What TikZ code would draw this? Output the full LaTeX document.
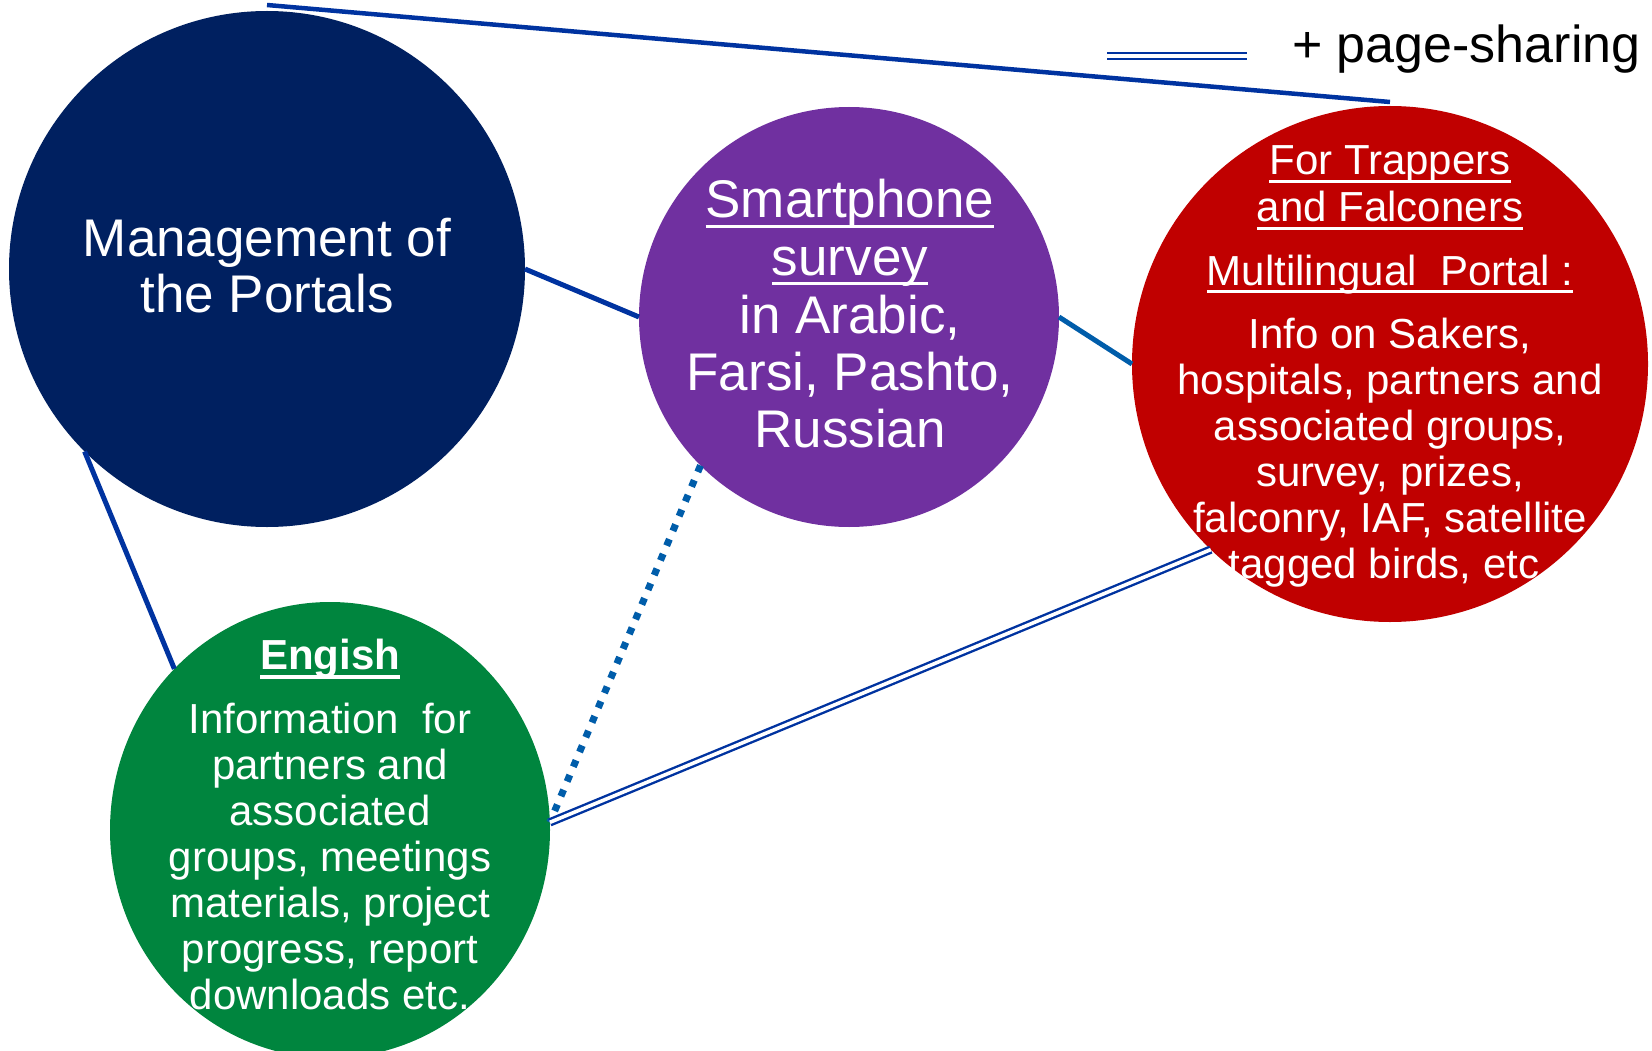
\documentclass[tikz,border=0pt]{standalone}
\usepackage{fontspec}
\usetikzlibrary{shapes.geometric}
\setmainfont{Liberation Sans}
\definecolor{navyc}{HTML}{002060}
\definecolor{purplec}{HTML}{7030A0}
\definecolor{redc}{HTML}{C00000}
\definecolor{greenc}{HTML}{00853E}
\definecolor{lineblue}{HTML}{0033A0}
\definecolor{lineblueb}{HTML}{005DAA}
\newcommand\ulthin[1]{\setbox0=\hbox{#1}\rlap{\rule[-0.19em]{\wd0}{0.065em}}\box0}
\newcommand\ulbold[1]{\setbox0=\hbox{#1}\rlap{\rule[-0.24em]{\wd0}{0.09em}}\box0}
\tikzset{
  circ/.style={circle, draw=none, inner sep=0pt, outer sep=0pt},
  bigtxt/.style={text=white, inner sep=0pt, anchor=base, font={\fontsize{53}{57}\selectfont}},
  smalltxt/.style={text=white, inner sep=0pt, anchor=base, font={\fontsize{42}{46}\selectfont}},
  plainline/.style={draw=lineblue, line width=5pt},
  lightline/.style={draw=lineblueb, line width=5pt},
  dotline/.style={draw=lineblueb, line width=7pt, dash pattern=on 7pt off 9pt},
  dblline/.style={draw=lineblue, line width=2.4pt, double=white, double distance=3.6pt},
}
\begin{document}
\begin{tikzpicture}[x=1pt, y=-1pt]
\useasboundingbox (0,0) rectangle (1652,1051);
\fill[white] (0,0) rectangle (1652,1051);

% circles
\node[circ, fill=navyc, minimum size=516pt] (navy) at (267,269) {};
\node[circ, fill=purplec, minimum size=420pt] (purple) at (849,317) {};
\node[circ, fill=redc, minimum size=516pt] (red) at (1390,364) {};
\node[ellipse, draw=none, inner sep=0pt, outer sep=0pt, fill=greenc, minimum width=440pt, minimum height=456pt] (green) at (330,830) {};

% connectors
\coordinate (topstart) at ([yshift=6pt]navy.north);
\coordinate (topend) at ([yshift=4pt]red.north);
\draw[plainline, line width=4.5pt] (topstart) -- (topend);
\draw[plainline] (navy.east) -- (purple.west);
\draw[lightline] (purple.east) -- (red.west);
\draw[plainline] (navy.225) -- (green.134);
\draw[dotline] (purple.225) -- (green.2);
\draw[dblline] (green.2) -- (red.226);

% legend
\coordinate (legA) at (1107,56);
\coordinate (legB) at (1247,56);
\draw[dblline] (legA) -- (legB);
\node[inner sep=0pt, anchor=base west, font={\fontsize{52}{56}\selectfont}] (legtxt) at (1292,63) {+ page-sharing};

% navy text
\node[bigtxt] (n1) at (267,256) {Management of};
\node[bigtxt] (n2) at (267,312) {the Portals};

% purple text
\node[bigtxt] (p1) at (850,218) {\ulthin{Smartphone}};
\node[bigtxt] (p2) at (850,275) {\ulthin{survey}};
\node[bigtxt] (p3) at (850,333) {in Arabic,};
\node[bigtxt] (p4) at (850,390) {Farsi, Pashto,};
\node[bigtxt] (p5) at (850,447) {Russian};

% red text
\node[smalltxt] (r1) at (1390,175) {\ulthin{For Trappers}};
\node[smalltxt] (r2) at (1390,222) {\ulthin{and Falconers}};
\node[smalltxt] (r3) at (1390,285) {\ulthin{Multilingual\ \ Portal :}};
\node[smalltxt] (r4) at (1390,348) {Info on Sakers,};
\node[smalltxt] (r5) at (1390,394) {hospitals, partners and};
\node[smalltxt] (r6) at (1390,440) {associated groups,};
\node[smalltxt] (r7) at (1390,486) {survey, prizes,};
\node[smalltxt] (r8) at (1390,532) {falconry, IAF, satellite};
\node[smalltxt] (r9) at (1390,578) {tagged birds, etc.};

% green text
\node[smalltxt, font={\fontsize{42}{46}\selectfont\bfseries}] (g1) at (330,669) {\ulbold{Engish}};
\node[smalltxt] (g2) at (330,733) {Information\ \ for};
\node[smalltxt] (g3) at (330,779) {partners and};
\node[smalltxt] (g4) at (330,825) {associated};
\node[smalltxt] (g5) at (330,871) {groups, meetings};
\node[smalltxt] (g6) at (330,917) {materials, project};
\node[smalltxt] (g7) at (330,963) {progress, report};
\node[smalltxt] (g8) at (330,1009) {downloads etc.};
\end{tikzpicture}
\end{document}
